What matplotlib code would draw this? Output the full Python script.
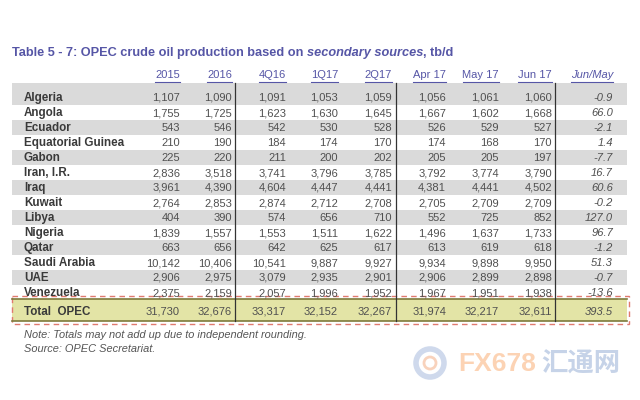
import matplotlib.pyplot as plt
import matplotlib.patches as mpatches

plt.rcParams['font.family'] = ['Liberation Sans', 'DejaVu Sans']

columns = ['2015', '2016', '4Q16', '1Q17', '2Q17', 'Apr 17', 'May 17', 'Jun 17', 'Jun/May']
countries = ['Algeria', 'Angola', 'Ecuador', 'Equatorial Guinea', 'Gabon', 'Iran, I.R.',
             'Iraq', 'Kuwait', 'Libya', 'Nigeria', 'Qatar', 'Saudi Arabia', 'UAE', 'Venezuela']
y2015 = [1107, 1755, 543, 210, 225, 2836, 3961, 2764, 404, 1839, 663, 10142, 2906, 2375]
y2016 = [1090, 1725, 546, 190, 220, 3518, 4390, 2853, 390, 1557, 656, 10406, 2975, 2159]
q4_16 = [1091, 1623, 542, 184, 211, 3741, 4604, 2874, 574, 1553, 642, 10541, 3079, 2057]
q1_17 = [1053, 1630, 530, 174, 200, 3796, 4447, 2712, 656, 1511, 625, 9887, 2935, 1996]
q2_17 = [1059, 1645, 528, 170, 202, 3785, 4441, 2708, 710, 1622, 617, 9927, 2901, 1952]
apr17 = [1056, 1667, 526, 174, 205, 3792, 4381, 2705, 552, 1496, 613, 9934, 2906, 1967]
may17 = [1061, 1602, 529, 168, 205, 3774, 4441, 2709, 725, 1637, 619, 9898, 2899, 1951]
jun17 = [1060, 1668, 527, 170, 197, 3790, 4502, 2709, 852, 1733, 618, 9950, 2898, 1938]
jun_may = [-0.9, 66.0, -2.1, 1.4, -7.7, 16.7, 60.6, -0.2, 127.0, 96.7, -1.2, 51.3, -0.7, -13.6]
totals = [31730, 32676, 33317, 32152, 32267, 31974, 32217, 32611]
total_change = 393.5

title_parts = ['Table 5 - 7: OPEC crude oil production based on ', 'secondary sources', ', tb/d']
notes = ['Note: Totals may not add up due to independent rounding.', 'Source: OPEC Secretariat.']

col_right = [180, 232, 286, 338, 392, 446, 499, 552, 613]
row_y0, row_h = 97, 15
blue = '#5656a6'
txt = '#3a3a3a'
num = '#505050'
fs = 8

fig = plt.figure(figsize=(6.4, 4), dpi=100)
ax = fig.add_axes([0, 0, 1, 1])
ax.set_xlim(0, 640)
ax.set_ylim(400, 0)
ax.axis('off')
fig.canvas.draw()
rend = fig.canvas.get_renderer()
inv = ax.transData.inverted()


def width_of(t):
    bb = t.get_window_extent(renderer=rend)
    (x0, _), (x1, _) = inv.transform([[bb.x0, bb.y0], [bb.x1, bb.y1]])
    return x1 - x0


# title in three pieces
x = 12
for i, part in enumerate(title_parts):
    t = ax.text(x, 56, part, fontsize=9.2, fontweight='bold', color=blue, va='baseline',
                style='italic' if i == 1 else 'normal')
    x += width_of(t)

# header
for c, xr in zip(columns, col_right):
    t = ax.text(xr, 78, c, fontsize=fs, color=blue, ha='right', va='baseline',
                style='italic' if c == 'Jun/May' else 'normal')
    w = width_of(t)
    ax.plot([xr - w, xr], [81.5, 81.5], color=blue, lw=0.8)

# row bands
for i in range(len(countries)):
    yc = row_y0 + i * row_h
    if i % 2 == 0:
        top = 83 if i == 0 else yc - row_h / 2
        ax.add_patch(mpatches.Rectangle((12, top), 615, yc + row_h / 2 - top,
                                        color='#dadada', lw=0))

series = [y2015, y2016, q4_16, q1_17, q2_17, apr17, may17, jun17]
for i, name in enumerate(countries):
    yb = row_y0 + i * row_h + 4
    ax.text(24, yb, name, fontsize=8.4, fontweight='bold', color=txt, va='baseline')
    for s, xr in zip(series, col_right):
        ax.text(xr, yb, f'{s[i]:,}', fontsize=fs, color=num, ha='right', va='baseline')
    ax.text(col_right[-1], yb, f'{jun_may[i]:.1f}', fontsize=fs, color=num,
            ha='right', va='baseline', style='italic')

# total row
tb = 315
ax.add_patch(mpatches.Rectangle((12, 299), 615, 22, color='#e3e4a6', lw=0))
ax.plot([12, 627], [299, 299], color='#7d7a3c', lw=1.2)
ax.plot([12, 627], [321, 321], color='#7d7a3c', lw=1.2)
ax.add_patch(mpatches.Rectangle((12, 296), 617, 28, fill=False, ec='#e07a70',
                                lw=1.0, ls=(0, (4, 3))))
ax.text(24, tb, 'Total  OPEC', fontsize=8.4, fontweight='bold', color=txt, va='baseline')
for v, xr in zip(totals, col_right):
    ax.text(xr, tb, f'{v:,}', fontsize=fs, color=num, ha='right', va='baseline')
ax.text(col_right[-1], tb, f'{total_change:.1f}', fontsize=fs, color=num,
        ha='right', va='baseline', style='italic')

# vertical separators
for xv in [235, 396, 555]:
    ax.plot([xv, xv], [83, 321], color='#333333', lw=0.9)

# notes
for k, n in enumerate(notes):
    ax.text(24, 338 + k * 14, n, fontsize=7.9, color='#555555', style='italic', va='baseline')

# watermark
ax.add_patch(mpatches.Circle((430, 363), 14, fill=False, ec='#c3d0e8', lw=4, alpha=0.8))
ax.add_patch(mpatches.Circle((430, 363), 6, fill=False, ec='#f6c0a0', lw=2, alpha=0.7))
ax.text(458, 364, 'FX678', fontsize=19, fontweight='bold', color='#fcd3b4', va='center')
ax.text(541, 364, '汇通网', fontsize=19, fontweight='bold', color='#c6d3e8', va='center',
        family=['Noto Sans CJK SC', 'DejaVu Sans'])

fig.savefig('out.png', dpi=100, facecolor='white')
